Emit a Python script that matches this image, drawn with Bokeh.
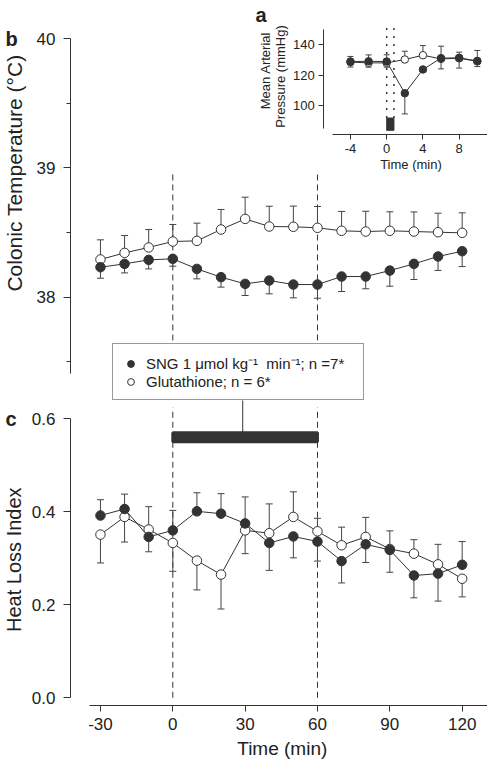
from math import pi
from bokeh.plotting import figure
from bokeh.models import (Range1d, LinearAxis, FixedTicker, PrintfTickFormatter,
                          Label, Legend, LegendItem)
from bokeh.embed import file_html
from bokeh.resources import INLINE

# ---------------- data ----------------
time_main = [-30, -20, -10, 0, 10, 20, 30, 40, 50, 60, 70, 80, 90, 100, 110, 120]

temp_sng = [38.232, 38.258, 38.289, 38.297, 38.219, 38.155, 38.103, 38.129,
            38.098, 38.098, 38.160, 38.160, 38.206, 38.258, 38.315, 38.356]
temp_sng_sem = [0.085, 0.070, 0.070, 0.057, 0.077, 0.077, 0.090, 0.103,
                0.103, 0.106, 0.116, 0.095, 0.121, 0.121, 0.108, 0.119]
temp_glu = [38.292, 38.343, 38.385, 38.431, 38.436, 38.524, 38.606, 38.547,
            38.545, 38.537, 38.514, 38.508, 38.514, 38.508, 38.503, 38.498]
temp_glu_sem = [0.152, 0.134, 0.139, 0.132, 0.137, 0.155, 0.168, 0.157,
                0.160, 0.165, 0.150, 0.157, 0.147, 0.152, 0.147, 0.155]

hli_sng = [0.392, 0.406, 0.346, 0.360, 0.401, 0.396, 0.375, 0.333,
           0.347, 0.336, 0.294, 0.330, 0.318, 0.263, 0.267, 0.286]
hli_sng_sem = [0.034, 0.032, 0.032, 0.043, 0.040, 0.043, 0.057, 0.059,
               0.046, 0.042, 0.047, 0.039, 0.048, 0.048, 0.059, 0.050]
hli_glu = [0.351, 0.389, 0.362, 0.333, 0.295, 0.265, 0.360, 0.354,
           0.389, 0.358, 0.328, 0.346, 0.320, 0.310, 0.287, 0.256]
hli_glu_sem = [0.061, 0.054, 0.049, 0.061, 0.063, 0.074, 0.050, 0.063,
               0.054, 0.028, 0.039, 0.042, 0.039, 0.030, 0.043, 0.039]

time_inset = [-4, -2, 0, 2, 4, 6, 8, 10]
map_sng = [128.9, 129.0, 128.9, 108.2, 123.7, 131.1, 131.3, 129.3]
map_sng_sem = [3.3, 4.2, 4.4, 13.5, 1.5, 7.8, 3.7, 6.8]
map_glu = [128.5, 128.0, 128.0, 130.2, 133.0, 130.6, 131.0, 129.0]
map_glu_sem = [3.2, 2.8, 2.8, 5.4, 6.3, 6.5, 6.4, 3.4]

infusion = [0, 60]          # SNG infusion period (min)
bolus = [0, 0.8]            # inset bolus (min)

main_x_ticks = [-30, 0, 30, 60, 90, 120]
temp_ticks = [38, 39, 40]
temp_minor = [37.5, 38.5, 39.5]
hli_ticks = [0.0, 0.2, 0.4, 0.6]
inset_x_ticks = [-4, 0, 4, 8]
inset_y_ticks = [100, 120, 140]

label_sng = "SNG 1 \u03bcmol kg\u207b\u00b9  min\u207b\u00b9; n =7*"
label_glu = "Glutathione; n = 6*"

# ---------------- style ----------------
FONT = "Liberation Sans"
INK = "#333333"
TXT = "#222222"

p = figure(width=487, height=761, output_backend="svg", toolbar_location=None,
           x_range=Range1d(-71.455, 130.51), y_range=Range1d(-0.13699, 1.49957),
           x_axis_location=None, y_axis_location=None, min_border=0,
           outline_line_color=None, background_fill_color="white",
           border_fill_color="white")
p.extra_y_ranges = {"b": Range1d(34.4063, 40.2964), "ins": Range1d(-327.86, 168.71)}
p.extra_x_ranges = {"ins": Range1d(-42.636, 11.128)}
p.xgrid.visible = False
p.ygrid.visible = False


def style_axis(ax, size, tick_out, standoff):
    ax.axis_line_color = INK
    ax.axis_line_width = 1
    ax.major_tick_line_color = INK
    ax.minor_tick_line_color = INK
    ax.major_tick_in = 0
    ax.major_tick_out = tick_out
    ax.minor_tick_in = 0
    ax.minor_tick_out = 4
    ax.major_label_text_font = FONT
    ax.major_label_text_font_size = size
    ax.major_label_text_color = TXT
    ax.major_label_standoff = standoff


def err_ends(vals, sems, other, strict):
    out = []
    for v, s, o in zip(vals, sems, other):
        up = (v > o) if strict else (v >= o)
        out.append(v + s if up else v - s)
    return out


def series(xs, sng, sng_sem, glu, glu_sem, yname, xname, msize, cap):
    kw = dict(y_range_name=yname, x_range_name=xname)
    e_sng = err_ends(sng, sng_sem, glu, False)
    e_glu = err_ends(glu, glu_sem, sng, True)
    for vals, ends in ((sng, e_sng), (glu, e_glu)):
        p.segment(x0=xs, y0=vals, x1=xs, y1=ends, line_color="#444444",
                  line_width=1, **kw)
        p.scatter(x=xs, y=ends, marker="dash", size=cap, line_color="#444444",
                  line_width=1, **kw)
    p.line(xs, sng, line_color=INK, line_width=1, **kw)
    p.line(xs, glu, line_color=INK, line_width=1, **kw)
    r_glu = p.scatter(xs, glu, size=msize, fill_color="white", line_color=INK,
                      line_width=1, **kw)
    r_sng = p.scatter(xs, sng, size=msize, fill_color=INK, line_color=INK,
                      line_width=1, **kw)
    return r_sng, r_glu


# ---------------- panel b : colonic temperature ----------------
p.segment(x0=infusion, y0=[37.665] * 2, x1=infusion, y1=[38.955] * 2,
          line_color=INK, line_width=1, line_dash="6 4", y_range_name="b")
series(time_main, temp_sng, temp_sng_sem, temp_glu, temp_glu_sem,
       "b", "default", 9.5, 7)

ax_b = LinearAxis(y_range_name="b", fixed_location=-42.425, bounds=(37.41, 40),
                  ticker=FixedTicker(ticks=temp_ticks, minor_ticks=temp_minor))
style_axis(ax_b, "17px", 7, 8)
p.add_layout(ax_b, "left")

# ---------------- panel c : heat loss index ----------------
p.segment(x0=infusion, y0=[0.0] * 2, x1=infusion, y1=[0.6243] * 2,
          line_color=INK, line_width=1, line_dash="6 4")
p.quad(left=[infusion[0]], right=[infusion[1]], bottom=[0.5507], top=[0.5701],
       fill_color=INK, line_color=INK, line_width=3)
p.segment(x0=[29], y0=[0.5701], x1=[29], y1=[0.6394], line_color=INK, line_width=1)
r_sng_c, r_glu_c = series(time_main, hli_sng, hli_sng_sem, hli_glu, hli_glu_sem,
                          "default", "default", 9.5, 7)

ax_c = LinearAxis(fixed_location=-42.425, bounds=(0, 0.6),
                  ticker=FixedTicker(ticks=hli_ticks),
                  formatter=PrintfTickFormatter(format="%.1f"))
style_axis(ax_c, "17px", 7, 8)
p.add_layout(ax_c, "left")

ax_x = LinearAxis(fixed_location=-0.01656, bounds=(-34.4, 130.51),
                  ticker=FixedTicker(ticks=main_x_ticks))
ax_x.major_label_overrides = {t: str(t) for t in main_x_ticks}
style_axis(ax_x, "17px", 6, 6)
p.add_layout(ax_x, "below")

# ---------------- inset a : mean arterial pressure ----------------
p.segment(x0=bolus, y0=[92] * 2, x1=bolus, y1=[151] * 2, line_color=INK,
          line_width=1.5, line_dash="2 6", x_range_name="ins", y_range_name="ins")
p.quad(left=[bolus[0]], right=[bolus[1]], bottom=[84], top=[92], fill_color=INK,
       line_color=INK, line_width=1, x_range_name="ins", y_range_name="ins")
series(time_inset, map_sng, map_sng_sem, map_glu, map_glu_sem,
       "ins", "ins", 7.5, 6)

ax_iy = LinearAxis(x_range_name="ins", y_range_name="ins", fixed_location=-6.944,
                   bounds=(85, 150), ticker=FixedTicker(ticks=inset_y_ticks))
style_axis(ax_iy, "13px", 5, 4)
p.add_layout(ax_iy, "left")

ax_ix = LinearAxis(x_range_name="ins", y_range_name="ins", fixed_location=81.14,
                   bounds=(-6.0, 11.1), ticker=FixedTicker(ticks=inset_x_ticks))
ax_ix.major_label_overrides = {t: str(t) for t in inset_x_ticks}
style_axis(ax_ix, "13px", 5, 4)
p.add_layout(ax_ix, "below")

# ---------------- texts ----------------
def label(x, y, text, size, xr="default", yr="default", angle=0.0, align="left",
          bold=False):
    p.add_layout(Label(x=x, y=y, text=text, x_range_name=xr, y_range_name=yr,
                       angle=angle, text_align=align, text_baseline="middle",
                       text_font=FONT, text_font_size=size, text_color=TXT,
                       text_font_style="bold" if bold else "normal"))


label(-65.65, 38.961, "Colonic Temperature (\u00b0C)", "21px", yr="b",
      angle=pi / 2, align="center")
label(-65.77, 0.297, "Heat Loss Index", "20px", angle=pi / 2, align="center")
label(45.4, -0.1084, "Time (min)", "19px", align="center")
label(-69.38, 39.9946, "b", "20px", yr="b", bold=True)
label(-69.38, 0.6006, "c", "20px", bold=True)
label(-14.48, 159.12, "a", "20px", xr="ins", yr="ins", bold=True)
label(-13.33, 123.0, "Mean Arterial", "13px", xr="ins", yr="ins",
      angle=pi / 2, align="center")
label(-11.72, 119.1, "Pressure (mmHg)", "13px", xr="ins", yr="ins",
      angle=pi / 2, align="center")
label(2.68, 61.37, "Time (min)", "13px", xr="ins", yr="ins", align="center")

# ---------------- legend ----------------
legend = Legend(items=[LegendItem(label=label_sng, renderers=[r_sng_c]),
                       LegendItem(label=label_glu, renderers=[r_glu_c])],
                location=(112, 361), padding=9, spacing=0, margin=0,
                glyph_width=17, glyph_height=17, label_height=17,
                label_standoff=7, label_width=208,
                label_text_font=FONT, label_text_font_size="15px",
                label_text_color=TXT, border_line_color=INK,
                border_line_width=1, background_fill_color="white",
                background_fill_alpha=1.0)
p.add_layout(legend)

open("out.html", "w").write(file_html(p, INLINE))
